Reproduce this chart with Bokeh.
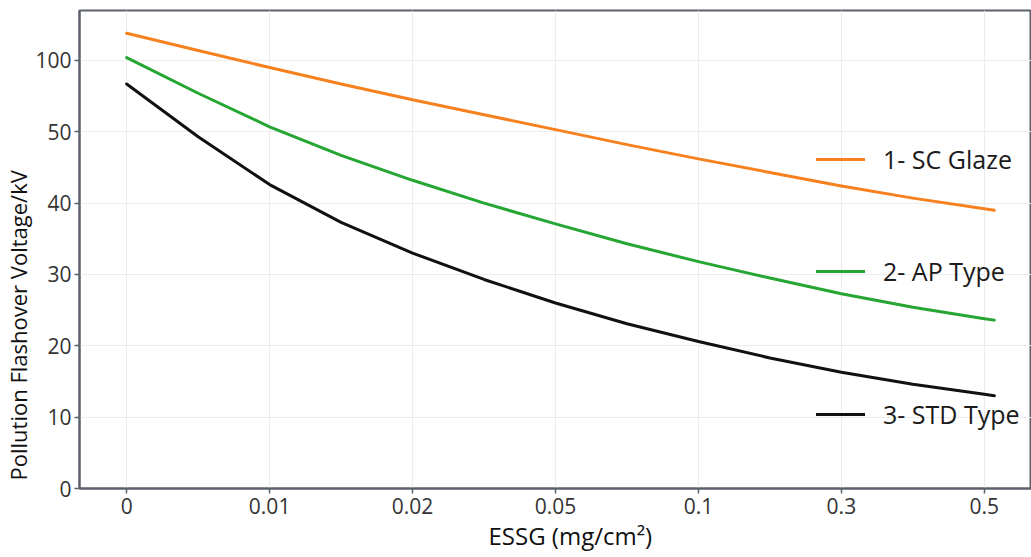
from bokeh.plotting import figure
from bokeh.models import Range1d, FixedTicker, Legend, LegendItem, Title
from bokeh.embed import file_html
from bokeh.resources import INLINE

# categorical-like positions of the ESSG ticks (evenly spaced on the chart)
x_tick_labels = ["0", "0.01", "0.02", "0.05", "0.1", "0.3", "0.5"]
y_tick_labels = ["0", "10", "20", "30", "40", "50", "100"]

# curve sample positions (in tick-index units) and values (in axis units; "100" sits at 60)
x_pos = [0, 0.5, 1, 1.5, 2, 2.5, 3, 3.5, 4, 4.5, 5, 5.5, 6, 6.07]
sc_glaze = [63.8, 61.4, 59.0, 56.7, 54.5, 52.4, 50.3, 48.2, 46.2, 44.3, 42.4, 40.7, 39.2, 39.0]
ap_type = [60.4, 55.4, 50.7, 46.7, 43.2, 40.0, 37.1, 34.3, 31.8, 29.5, 27.3, 25.4, 23.8, 23.6]
std_type = [56.7, 49.3, 42.6, 37.3, 33.0, 29.3, 26.0, 23.1, 20.6, 18.3, 16.3, 14.6, 13.2, 13.0]

series_names = ["1- SC Glaze", "2- AP Type", "3- STD Type"]
series_colors = ["#f8811f", "#25a532", "#111111"]

x_title = "ESSG (mg/cm²)"
y_title = "Pollution Flashover Voltage/kV"

FONT = "Open Sans"

p = figure(width=1031, height=557, output_backend="svg", toolbar_location=None,
           x_range=Range1d(-0.33, 6.33), y_range=Range1d(0, 67),
           min_border_left=79, min_border_right=0, min_border_top=10, min_border_bottom=69)

p.background_fill_color = "#ffffff"
p.border_fill_color = "#ffffff"
p.outline_line_color = "#5b606b"
p.outline_line_width = 2

x_ticks = list(range(len(x_tick_labels)))
y_ticks = [0, 10, 20, 30, 40, 50, 60]
p.xaxis.ticker = FixedTicker(ticks=x_ticks)
p.yaxis.ticker = FixedTicker(ticks=y_ticks)
p.xaxis.major_label_overrides = {t: l for t, l in zip(x_ticks, x_tick_labels)}
p.yaxis.major_label_overrides = {t: l for t, l in zip(y_ticks, y_tick_labels)}

for ax in (p.xaxis, p.yaxis):
    ax.axis_line_color = "#5b606b"
    ax.axis_line_width = 2
    ax.major_tick_line_color = "#5b606b"
    ax.major_tick_line_width = 1.5
    ax.major_tick_out = 5
    ax.major_tick_in = 0
    ax.minor_tick_line_color = None
    ax.major_label_text_font = FONT
    ax.major_label_text_font_size = "21px"
    ax.major_label_text_color = "#333333"

p.xaxis.major_label_standoff = 4
p.yaxis.major_label_standoff = 3

p.xgrid.grid_line_color = "#ececec"
p.ygrid.grid_line_color = "#ececec"
p.xgrid.grid_line_width = 1
p.ygrid.grid_line_width = 1

# axis titles, offset along their side like in the reference
p.add_layout(Title(text=x_title, align="left", offset=409, text_font=FONT,
                   text_font_size="24px", text_font_style="normal",
                   text_color="#111111", standoff=1), "below")
p.add_layout(Title(text=y_title, align="left", offset=8, text_font=FONT,
                   text_font_size="22px", text_font_style="normal",
                   text_color="#111111", standoff=0), "left")

renderers = []
for vals, col in zip([sc_glaze, ap_type, std_type], series_colors):
    r = p.line(x_pos, vals, line_color=col, line_width=3, line_join="round", line_cap="round")
    renderers.append(r)

# one legend per item, placed at fixed screen offsets (px from frame's bottom-left)
legend_locs = [(737, 312), (737, 200), (737, 57)]
for r, name, loc in zip(renderers, series_names, legend_locs):
    lg = Legend(items=[LegendItem(label=name, renderers=[r])], location=loc,
                glyph_width=49, glyph_height=30, label_height=30, label_standoff=18,
                padding=0, margin=0, spacing=0,
                border_line_color=None, background_fill_alpha=0,
                label_text_font=FONT, label_text_font_size="25px",
                label_text_color="#1a1a1a")
    p.add_layout(lg, "center")

open("out.html", "w").write(file_html(p, INLINE))
